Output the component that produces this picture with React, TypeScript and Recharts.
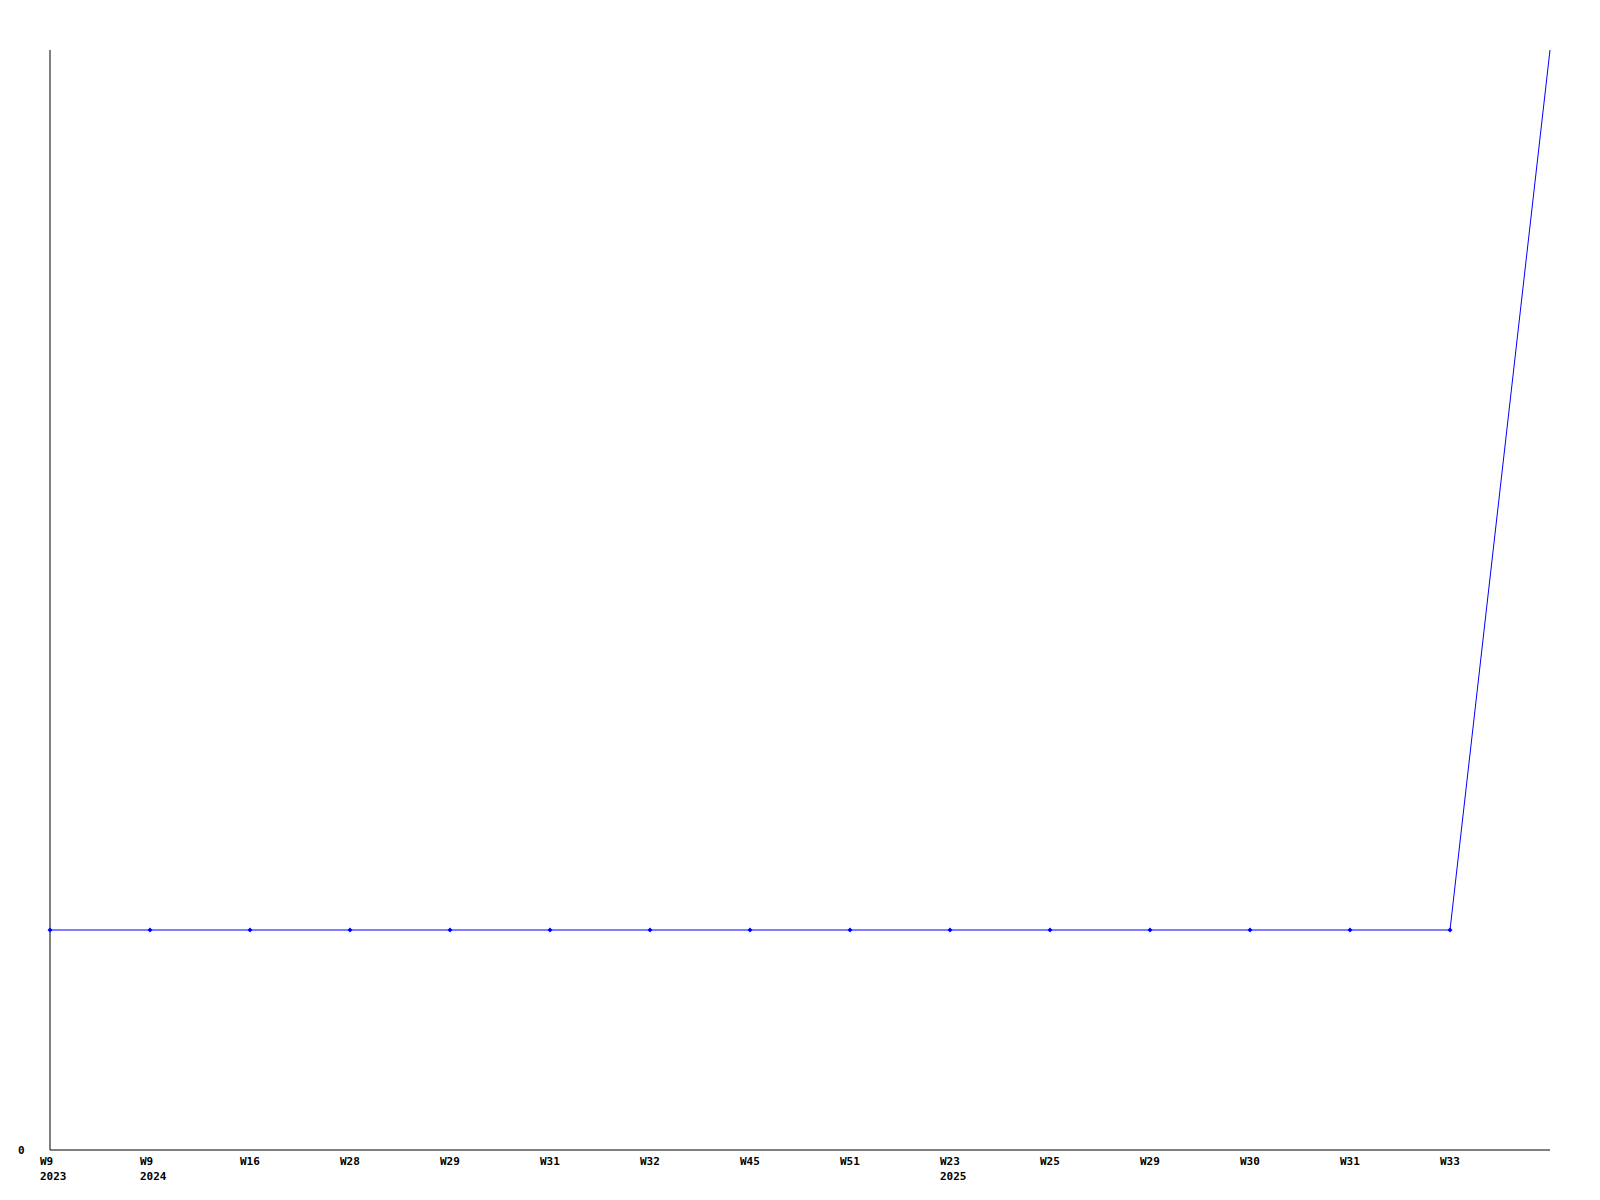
import { LineChart, Line, XAxis, YAxis } from "recharts";

const weeks = ["W9", "W9", "W16", "W28", "W29", "W31", "W32", "W45", "W51", "W23", "W25", "W29", "W30", "W31", "W33", ""];
const years = ["2023", "2024", "", "", "", "", "", "", "", "2025", "", "", "", "", "", ""];
const values = [1, 1, 1, 1, 1, 1, 1, 1, 1, 1, 1, 1, 1, 1, 1, 5];

const data = values.map((v, i) => ({ idx: i, value: v }));

const FONT = "'DejaVu Sans Mono', 'Liberation Mono', monospace";

function WeekTick(props: any) {
    const { x, y, payload } = props;
    const i = payload.value as number;
    return (
        <g>
            <text x={x - 10} y={y + 13} fontFamily={FONT} fontWeight="bold" fontSize={11} fill="#000" textAnchor="start">
                {weeks[i]}
            </text>
            {years[i] && (
                <text x={x - 10} y={y + 28} fontFamily={FONT} fontWeight="bold" fontSize={11} fill="#000" textAnchor="start">
                    {years[i]}
                </text>
            )}
        </g>
    );
}

function ZeroTick(props: any) {
    const { x, y, payload } = props;
    return (
        <text x={x} y={y + 4} dx={-30} fontFamily={FONT} fontWeight="bold" fontSize={11} fill="#000" textAnchor="start">
            {payload.value}
        </text>
    );
}

function Marker(props: any) {
    const { cx, cy, index } = props;
    if (index === values.length - 1) return <g key={index} />;
    return (
        <path
            key={index}
            d={`M${cx - 2.5},${cy} L${cx},${cy - 2.5} L${cx + 2.5},${cy} L${cx},${cy + 2.5} Z`}
            fill="#0000ff"
            stroke="none"
        />
    );
}

export default function App() {
    return (
        <div style={{ position: "absolute", left: 0, top: 0, width: 1600, height: 1200, background: "#fff" }}>
            <LineChart width={1600} height={1200} data={data} margin={{ top: 50, right: 50, left: 0, bottom: 0 }}>
                <XAxis
                    dataKey="idx"
                    type="category"
                    axisLine={{ stroke: "#000", strokeWidth: 1 }}
                    tickLine={false}
                    tickSize={0}
                    interval={0}
                    height={50}
                    tick={<WeekTick />}
                />
                <YAxis
                    type="number"
                    domain={[0, 5]}
                    ticks={[0]}
                    width={50}
                    axisLine={{ stroke: "#000", strokeWidth: 1 }}
                    tickLine={false}
                    tickSize={0}
                    tick={<ZeroTick />}
                />
                <Line
                    type="linear"
                    dataKey="value"
                    stroke="#0000ff"
                    strokeWidth={1}
                    dot={<Marker />}
                    activeDot={false}
                    isAnimationActive={false}
                />
            </LineChart>
        </div>
    );
}
